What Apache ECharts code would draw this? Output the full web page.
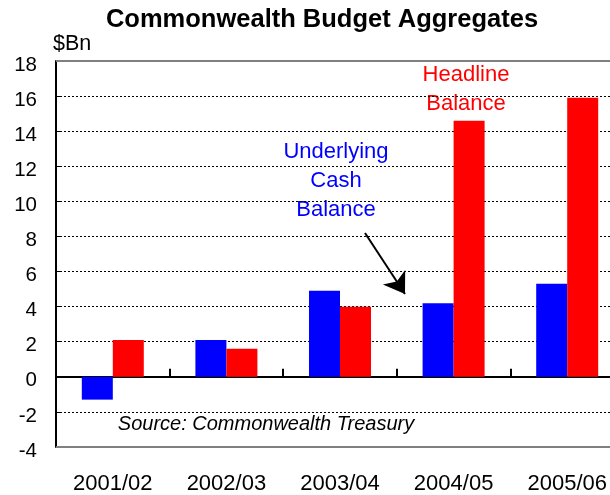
<!DOCTYPE html>
<html>
<head>
<meta charset="utf-8">
<script src="https://cdn.jsdelivr.net/npm/echarts@6/dist/echarts.min.js"></script>
<style>html,body{margin:0;padding:0;background:#fff}#c{width:610px;height:495px}</style>
</head>
<body>
<div id="c"></div>
<script>
const categories = ['2001/02', '2002/03', '2003/04', '2004/05', '2005/06'];
const underlyingCash = [-1.3, 2.1, 4.9, 4.2, 5.3];
const headline = [2.1, 1.6, 4.0, 14.6, 15.9];
const yMin = -4, yMax = 18, yStep = 2;

const FONT = '"Liberation Sans", Arial, sans-serif';
const chart = echarts.init(document.getElementById('c'), null, {renderer: 'canvas'});
chart.setOption({
  animation: false,
  backgroundColor: '#fff',
  textStyle: {fontFamily: FONT},
  grid: {left: 56, top: 61, width: 568, height: 386, containLabel: false, outerBoundsMode: 'none'},
  xAxis: [{
    type: 'category', data: categories,
    axisLine: {onZero: true, lineStyle: {color: '#000', width: 2}},
    axisTick: {show: true, inside: true, length: 8, lineStyle: {color: '#000', width: 2}},
    axisLabel: {show: false},
    splitLine: {show: false}
  }, {
    type: 'category', data: categories, position: 'bottom',
    axisLine: {show: false, onZero: false},
    axisTick: {show: false},
    axisLabel: {show: true, color: '#000', fontSize: 22, fontFamily: FONT, margin: 26},
    splitLine: {show: false}
  }],
  yAxis: {
    type: 'value', min: yMin, max: yMax, interval: yStep,
    axisLine: {show: true, onZero: false, lineStyle: {color: '#000', width: 2}},
    axisTick: {show: true, inside: true, length: 6, lineStyle: {color: '#000', width: 1}},
    axisLabel: {color: '#000', fontSize: 20.5, fontFamily: FONT, margin: 19, verticalAlign: 'top', lineHeight: 8},
    splitLine: {show: true, lineStyle: {color: '#000', width: 1, type: [2, 2]}}
  },
  series: [{
    name: 'Underlying Cash Balance', type: 'bar', data: underlyingCash,
    barWidth: 31, barGap: '0%',
    itemStyle: {color: '#0000FF'},
    markLine: {
      silent: true, symbol: 'none', label: {show: false},
      lineStyle: {color: '#808080', width: 2, type: 'solid'},
      data: [{yAxis: yMax}, {yAxis: yMin}]
    }
  }, {
    name: 'Headline Balance', type: 'bar', data: headline,
    barWidth: 31,
    itemStyle: {color: '#FF0000'},
    markLine: {
      silent: true, symbol: ['none', 'arrow'], symbolSize: 20,
      label: {show: false},
      lineStyle: {color: '#000', width: 2, type: 'solid'},
      data: [[{x: 365, y: 233}, {x: 405, y: 294}]]
    }
  }],
  graphic: [
    {type: 'text', x: 322, y: 20, style: {text: 'Commonwealth Budget Aggregates', font: 'bold 25.5px ' + FONT, fill: '#000', textAlign: 'center', textVerticalAlign: 'middle'}},
    {type: 'text', x: 53, y: 44, style: {text: '$Bn', font: '21.5px ' + FONT, fill: '#000', textAlign: 'left', textVerticalAlign: 'middle'}},
    {type: 'text', x: 466, y: 75, style: {text: 'Headline', font: '22px ' + FONT, fill: '#FF0000', textAlign: 'center', textVerticalAlign: 'middle'}},
    {type: 'text', x: 466, y: 104, style: {text: 'Balance', font: '22px ' + FONT, fill: '#FF0000', textAlign: 'center', textVerticalAlign: 'middle'}},
    {type: 'text', x: 336, y: 152, style: {text: 'Underlying', font: '22px ' + FONT, fill: '#0000FF', textAlign: 'center', textVerticalAlign: 'middle'}},
    {type: 'text', x: 336, y: 181, style: {text: 'Cash', font: '22px ' + FONT, fill: '#0000FF', textAlign: 'center', textVerticalAlign: 'middle'}},
    {type: 'text', x: 336, y: 210, style: {text: 'Balance', font: '22px ' + FONT, fill: '#0000FF', textAlign: 'center', textVerticalAlign: 'middle'}},
    {type: 'text', x: 266, y: 424, style: {text: 'Source: Commonwealth Treasury', font: 'italic 20px ' + FONT, fill: '#000', textAlign: 'center', textVerticalAlign: 'middle'}}
  ]
});
</script>
</body>
</html>
